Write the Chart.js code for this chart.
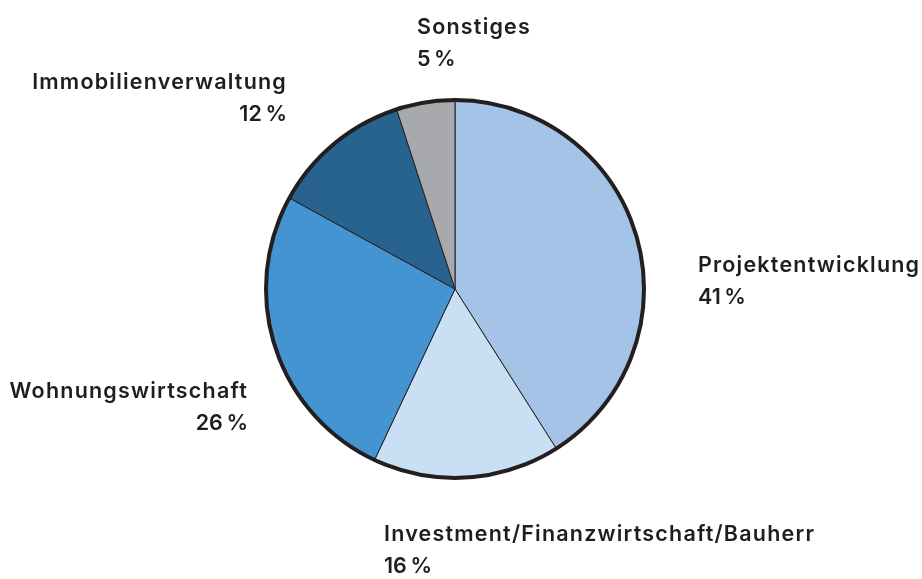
<!DOCTYPE html>
<html lang="de">
<head>
<meta charset="utf-8">
<title>Verteilung</title>
<script src="https://cdn.jsdelivr.net/npm/chart.js@4/dist/chart.umd.min.js"></script>
<style>
    html, body { margin: 0; padding: 0; background: #fff; }
    #wrap { position: relative; width: 922px; height: 579px; }
</style>
</head>
<body>
<div id="wrap"><canvas id="pie"></canvas></div>
<script>
// ── Daten ─────────────────────────────────────────────
const categories = ['Projektentwicklung', 'Investment/Finanzwirtschaft/Bauherr', 'Wohnungswirtschaft', 'Immobilienverwaltung', 'Sonstiges'];
const shares = [41, 16, 26, 12, 5];
const sliceColors = ['#a4c3e6', '#c9dff3', '#4394d1', '#28628f', '#a8a9ad'];

// Beschriftung: Ankerpunkt (x, Grundlinie) und Ausrichtung
const labelLayout = [
    { x: 698, y: 272, align: 'left' },
    { x: 384, y: 541, align: 'left' },
    { x: 248, y: 398, align: 'right' },
    { x: 287, y: 89, align: 'right' },
    { x: 417, y: 34, align: 'left' },
];

const FONT = '600 21.5px Inter, "Noto Sans", sans-serif';
const SPACING = '1.2px';
const INK = '#1e1e1e';

// ── Plugins ───────────────────────────────────────────
const outerRing = {
    id: 'outerRing',
    afterDatasetsDraw(chart) {
        const arc = chart.getDatasetMeta(0).data[0];
        if (!arc) return;
        const { ctx } = chart;
        ctx.save();
        ctx.beginPath();
        ctx.arc(arc.x, arc.y, arc.outerRadius, 0, Math.PI * 2);
        ctx.lineWidth = 4;
        ctx.strokeStyle = '#231f20';
        ctx.stroke();
        ctx.restore();
    }
};

const sliceLabels = {
    id: 'sliceLabels',
    afterDraw(chart) {
        const { ctx } = chart;
        ctx.save();
        ctx.font = FONT;
        ctx.letterSpacing = SPACING;
        ctx.fillStyle = INK;
        ctx.textBaseline = 'alphabetic';
        categories.forEach((name, i) => {
            const pos = labelLayout[i];
            ctx.textAlign = pos.align;
            ctx.fillText(name, pos.x, pos.y);
            ctx.fillText(shares[i] + '\u202F%', pos.x, pos.y + 32);
        });
        ctx.restore();
    }
};

// ── Chart ─────────────────────────────────────────────
new Chart(document.getElementById('pie'), {
    type: 'pie',
    data: {
        labels: categories,
        datasets: [{
            data: shares,
            backgroundColor: sliceColors,
            borderColor: '#231f20',
            borderWidth: 1,
        }],
    },
    options: {
        responsive: true,
        maintainAspectRatio: false,
        animation: false,
        radius: 189,
        layout: { padding: { left: 0, right: 12, top: 0, bottom: 1 } },
        plugins: {
            legend: { display: false },
            tooltip: { enabled: false },
        },
    },
    plugins: [outerRing, sliceLabels],
});
</script>
</body>
</html>
